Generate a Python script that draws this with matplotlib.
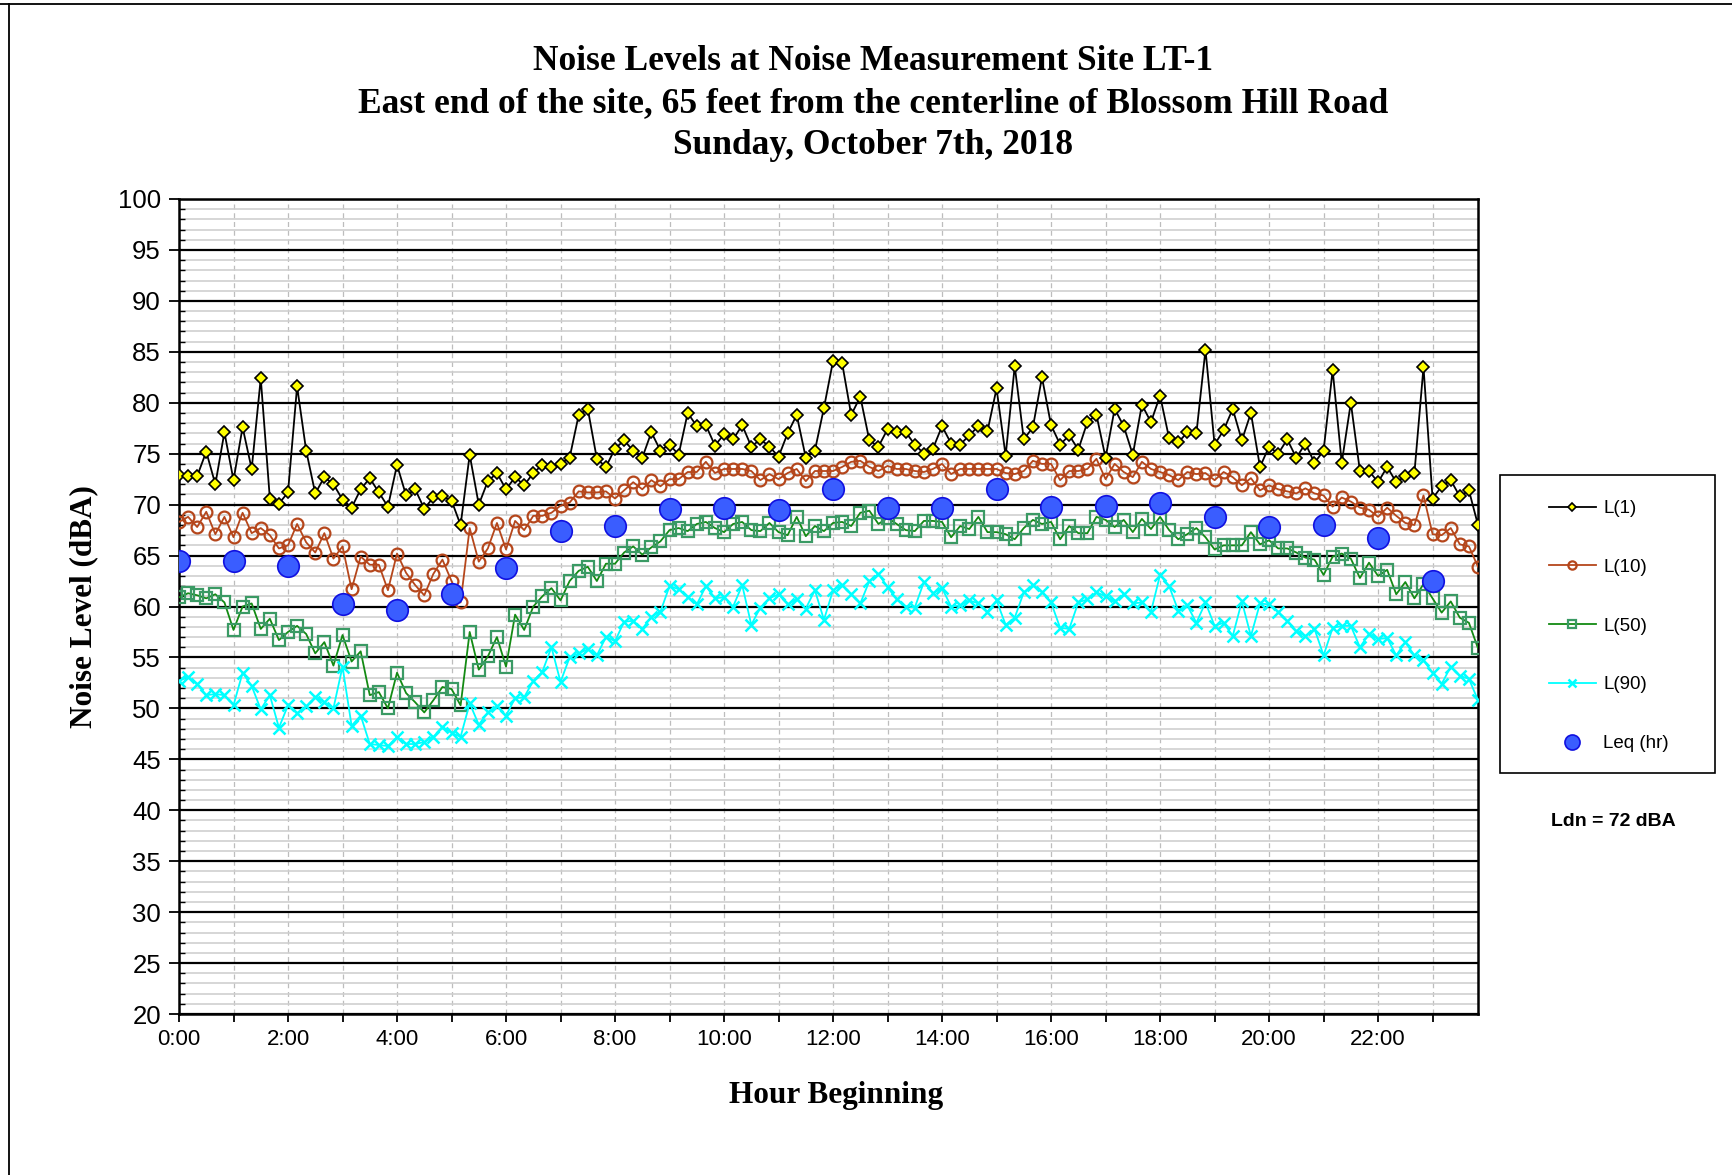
import numpy as np
import matplotlib
matplotlib.use("Agg")
import matplotlib.pyplot as plt
from matplotlib.lines import Line2D
from matplotlib.patches import Rectangle
from matplotlib.ticker import MultipleLocator, FixedLocator

# 10-minute readings, 0:00 .. 23:50
L1 = [72.9, 72.8, 72.8, 75.2, 72.0, 77.1,
      72.4, 77.6, 73.5, 82.4, 70.6, 70.1,
      71.2, 81.6, 75.3, 71.1, 72.7, 72.0,
      70.5, 69.7, 71.5, 72.6, 71.2, 69.8,
      73.9, 70.9, 71.5, 69.6, 70.7, 70.8,
      70.4, 68.0, 74.9, 70.0, 72.3, 73.1,
      71.5, 72.7, 71.9, 73.1, 73.9, 73.7,
      74.0, 74.6, 78.8, 79.4, 74.5, 73.7,
      75.5, 76.3, 75.3, 74.6, 77.1, 75.3,
      75.9, 74.9, 79.0, 77.7, 77.8, 75.8,
      76.9, 76.4, 77.8, 75.7, 76.4, 75.7,
      74.7, 77.0, 78.8, 74.6, 75.3, 79.5,
      84.1, 83.9, 78.8, 80.6, 76.3, 75.7,
      77.4, 77.1, 77.1, 75.9, 75.0, 75.5,
      77.7, 76.0, 75.9, 76.8, 77.7, 77.2,
      81.4, 74.8, 83.6, 76.4, 77.6, 82.5,
      77.8, 75.9, 76.8, 75.4, 78.1, 78.8,
      74.6, 79.4, 77.7, 74.9, 79.8, 78.1,
      80.7, 76.5, 76.1, 77.1, 77.0, 85.2,
      75.9, 77.3, 79.4, 76.3, 79.0, 73.7,
      75.7, 75.0, 76.4, 74.6, 76.0, 74.1,
      75.3, 83.2, 74.1, 80.0, 73.3, 73.3,
      72.2, 73.7, 72.2, 72.8, 73.1, 83.5,
      70.6, 71.8, 72.4, 70.8, 71.4, 68.0]

L10 = [68.3, 68.8, 67.8, 69.3, 67.1, 68.8,
       66.8, 69.2, 67.2, 67.7, 67.0, 65.7,
       66.0, 68.1, 66.3, 65.3, 67.2, 64.7,
       65.9, 61.7, 64.9, 64.1, 64.1, 61.6,
       65.2, 63.3, 62.1, 61.1, 63.2, 64.6,
       62.5, 60.4, 67.7, 64.4, 65.7, 68.2,
       65.6, 68.4, 67.5, 68.9, 68.9, 69.2,
       69.9, 70.2, 71.3, 71.2, 71.2, 71.3,
       70.6, 71.4, 72.2, 71.5, 72.4, 71.8,
       72.5, 72.5, 73.2, 73.2, 74.2, 73.1,
       73.5, 73.5, 73.5, 73.3, 72.4, 73.0,
       72.5, 73.1, 73.5, 72.3, 73.3, 73.3,
       73.3, 73.7, 74.2, 74.3, 73.7, 73.3,
       73.8, 73.5, 73.5, 73.3, 73.2, 73.5,
       74.0, 73.0, 73.5, 73.5, 73.5, 73.5,
       73.5, 73.1, 73.0, 73.3, 74.3, 74.0,
       74.0, 72.4, 73.3, 73.3, 73.5, 74.5,
       72.5, 74.0, 73.2, 72.7, 74.2, 73.5,
       73.2, 72.9, 72.4, 73.2, 73.0, 73.1,
       72.4, 73.2, 72.7, 71.9, 72.6, 71.4,
       71.9, 71.5, 71.3, 71.1, 71.6, 71.1,
       70.9, 69.8, 70.7, 70.3, 69.7, 69.5,
       68.8, 69.7, 68.9, 68.2, 68.0, 70.9,
       67.1, 67.0, 67.7, 66.1, 65.9, 63.9]

L50 = [60.9, 61.3, 61.1, 60.8, 61.2, 60.4,
       57.7, 60.0, 60.3, 57.8, 58.8, 56.7,
       57.5, 58.1, 57.3, 55.4, 56.5, 54.2,
       57.2, 54.6, 55.6, 51.3, 51.6, 50.0,
       53.5, 51.5, 50.6, 49.6, 50.8, 52.1,
       51.9, 50.3, 57.5, 53.8, 55.1, 57.0,
       54.1, 59.2, 57.7, 60.0, 61.0, 61.8,
       60.6, 62.5, 63.5, 63.9, 62.5, 64.2,
       64.2, 65.3, 65.9, 65.1, 65.8, 66.4,
       67.5, 67.7, 67.4, 68.1, 68.3, 67.7,
       67.3, 68.1, 68.3, 67.5, 67.4, 68.2,
       67.3, 67.0, 68.8, 66.9, 67.9, 67.4,
       68.2, 68.3, 67.9, 69.2, 69.4, 68.1,
       68.7, 68.1, 67.5, 67.4, 68.4, 68.4,
       68.3, 66.8, 67.9, 67.6, 68.8, 67.3,
       67.3, 67.1, 66.6, 67.7, 68.5, 68.1,
       68.3, 66.6, 67.9, 67.2, 67.2, 68.8,
       68.5, 67.8, 68.5, 67.3, 68.6, 67.6,
       68.8, 67.5, 66.6, 67.1, 67.7, 66.8,
       65.6, 66.0, 66.0, 66.0, 67.3, 66.1,
       66.5, 65.7, 65.7, 65.3, 64.8, 64.6,
       63.1, 64.9, 65.2, 64.7, 62.8, 64.3,
       63.0, 63.6, 61.2, 62.4, 60.8, 62.2,
       60.8, 59.4, 60.5, 58.9, 58.4, 55.9]

L90 = [52.7, 53.1, 52.4, 51.3, 51.4, 51.3,
       50.3, 53.5, 52.2, 49.9, 51.3, 48.1,
       50.3, 49.5, 50.2, 51.1, 50.6, 50.0,
       54.1, 48.3, 49.3, 46.5, 46.4, 46.3,
       47.2, 46.5, 46.5, 46.7, 47.2, 48.2,
       47.6, 47.2, 50.5, 48.4, 49.6, 50.2,
       49.3, 51.0, 51.1, 52.7, 53.6, 56.0,
       52.6, 55.0, 55.4, 55.8, 55.2, 57.0,
       56.6, 58.5, 58.6, 57.8, 59.0, 59.5,
       62.0, 61.7, 60.9, 60.2, 62.0, 60.8,
       60.9, 60.0, 62.1, 58.2, 59.9, 60.8,
       61.2, 60.2, 60.7, 59.8, 61.6, 58.7,
       61.6, 62.1, 61.2, 60.3, 62.5, 63.2,
       61.9, 60.7, 60.0, 59.9, 62.4, 61.3,
       61.8, 60.0, 60.1, 60.6, 60.3, 59.5,
       60.6, 58.2, 58.9, 61.4, 62.1, 61.4,
       60.4, 57.9, 57.8, 60.4, 60.7, 61.4,
       61.0, 60.5, 61.2, 60.3, 60.4, 59.5,
       63.1, 62.0, 59.6, 60.1, 58.4, 60.4,
       58.1, 58.4, 57.1, 60.5, 57.1, 60.3,
       60.2, 59.5, 58.6, 57.6, 57.1, 57.8,
       55.2, 57.9, 58.1, 58.1, 56.0, 57.3,
       56.8, 56.9, 55.2, 56.5, 55.2, 54.7,
       53.5, 52.4, 54.1, 53.2, 52.9, 50.8]

# hourly Leq, 0:00 .. 23:00
Leq = [64.5, 64.5, 64.0, 60.2, 59.7, 61.2, 63.8, 67.4, 67.9, 69.6, 69.7, 69.5,
       71.5, 69.7, 69.7, 71.5, 69.8, 69.9, 70.2, 68.8, 67.8, 68.0, 66.7, 62.5]

minutes = np.arange(0, 24 * 60, 10)
t = minutes / 60.0
hours = np.arange(24)
hour_labels = ["%d:00" % h if h % 2 == 0 else "" for h in hours]

fig = plt.figure(figsize=(17.32, 11.75), dpi=100)
ax = fig.add_axes([179 / 1732, 1 - 1014 / 1175, 1299 / 1732, 815 / 1175])

ax.plot(t, L1, color="black", lw=1.3, marker="D", ms=6.5, mfc="#ffff00", mec="black",
        mew=1.2, label="L(1)", zorder=5)
ax.plot(t, L10, color="#b5461b", lw=1.3, marker="o", ms=8.5, mfc="none", mec="#b5461b",
        mew=1.6, label="L(10)", zorder=4)
ax.plot(t, L50, color="#138a13", lw=1.3, marker="s", ms=8, mfc="none", mec="#3a9a64",
        mew=1.6, label="L(50)", zorder=3)
ax.plot(t, L90, color="#00ffff", lw=1.3, marker="x", ms=9, mec="#00ffff", mew=1.8,
        label="L(90)", zorder=3)
ax.plot(hours, Leq, ls="none", marker="o", ms=15.5, mfc="#3a5dff", mec="#1010e0", mew=1.2,
        label="Leq (hr)", zorder=6)

ax.set_xlim(0, t[-1])
ax.set_ylim(20, 100)
ax.yaxis.set_major_locator(MultipleLocator(5))
ax.yaxis.set_minor_locator(MultipleLocator(1))
ax.xaxis.set_major_locator(FixedLocator(hours))
ax.set_xticklabels(hour_labels, fontsize=16, family="Liberation Sans")
for lab in ax.get_yticklabels():
    lab.set_fontsize(18.5)
    lab.set_family("Liberation Sans")

ax.grid(which="major", axis="y", color="black", lw=1.6, zorder=1)
ax.grid(which="minor", axis="y", color="#cfcfcf", lw=1.2, zorder=0)
ax.grid(which="major", axis="x", color="#bdbdbd", lw=0.9, ls=(0, (4, 3)), zorder=0)
ax.tick_params(axis="y", which="major", direction="out", length=7, width=1.3, pad=6)
ax.tick_params(axis="y", which="minor", direction="in", length=4, width=1.0)
ax.tick_params(axis="x", which="major", direction="out", length=6, width=1.3, pad=5)
for sp in ax.spines.values():
    sp.set_linewidth(1.8)
    sp.set_color("black")

ax.set_xlabel("Hour Beginning", fontsize=22.5, fontweight="bold", family="Liberation Serif")
ax.xaxis.set_label_coords(0.506, -0.082)
ax.set_ylabel("Noise Level (dBA)", fontsize=22.5, fontweight="bold", family="Liberation Serif",
              labelpad=14)

titles = ["Noise Levels at Noise Measurement Site LT-1",
          "East end of the site, 65 feet from the centerline of Blossom Hill Road",
          "Sunday, October 7th, 2018"]
for i, s in enumerate(titles):
    fig.text(0.504, 0.9475 - i * 0.0355, s, ha="center", va="center", fontsize=25.5,
             fontweight="bold", family="Liberation Serif")

# legend box
fig.add_artist(Rectangle((1500 / 1732, 1 - 773 / 1175), 215 / 1732, 298 / 1175,
                         transform=fig.transFigure, fill=False, ec="black", lw=1.2))
fig.legend(loc="center", bbox_to_anchor=(1609 / 1732, 1 - 626 / 1175), frameon=False,
           prop={"family": "Liberation Sans", "size": 13.5}, labelspacing=2.22,
           handlelength=2.5, handletextpad=0.4, markerscale=0.7)
fig.text(1613 / 1732, 1 - 821 / 1175, "Ldn = 72 dBA", ha="center", va="center",
         fontsize=14, fontweight="bold", family="Liberation Sans")

# page border
fig.add_artist(Line2D([0, 1], [1 - 3.5 / 1175, 1 - 3.5 / 1175], transform=fig.transFigure,
                      color="black", lw=1.3))
fig.add_artist(Line2D([9 / 1732, 9 / 1732], [0, 1 - 3.5 / 1175], transform=fig.transFigure,
                      color="black", lw=1.3))

fig.savefig("out.png", dpi=100)
